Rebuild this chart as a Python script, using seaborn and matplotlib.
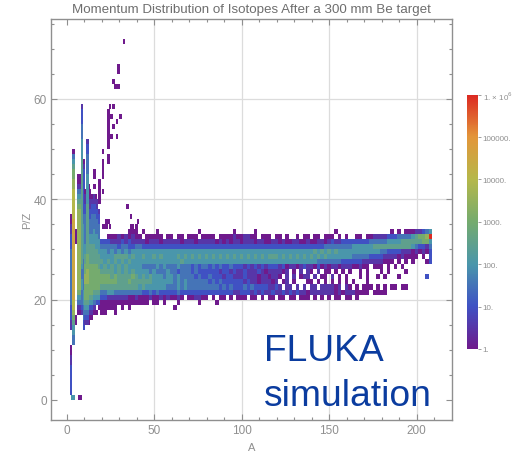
import numpy as np
import pandas as pd
import seaborn as sns
import matplotlib
matplotlib.use("Agg")
import matplotlib.pyplot as plt
from matplotlib.colors import LinearSegmentedColormap, LogNorm

TITLE = "Momentum Distribution of Isotopes After a 300 mm Be target"
X_TICKS = [0, 50, 100, 150, 200]
Y_TICKS = [0, 20, 40, 60]
CBAR_TICKS = [1, 10, 100, 1000, 10000, 100000, 1000000]
CBAR_LABELS = ["1.", "10.", "100.", "1000.", "10000.", "100000.", r"1. × 10$^{6}$"]
RAINBOW = ["#6f1a8c", "#3f52c4", "#4a96ab", "#74ab6e", "#b5b84a", "#e3963a", "#dc2a22"]

# Level code per cell: half decades of counts, 0=1, 2=10, 4=100, ... c=1e6
LEVELS = "0123456789abc"

# Main band: 2-wide A bins beginning at A=19, one string per P/Z row
BAND_START_A = 19
BAND_ROWS = {
    33: "........00" "..0...0..." "........0." "........0." "....0....." ".........." ".......0.." ".........." "...0.0.000" "11234",
    32: "..00010101" "00.00000.0" "0.00.000.0" "000.000010" "01100.000." "00.0..0.00" ".00.000.0." "0..00.0011" "1122233334" "5667c",
    31: "2221112121" "1110111011" "1110111011" "1110101011" "0111011001" "1010011001" "0011012112" "2222222333" "3344445555" "55664",
    30: "3333323322" "3322222222" "2222222222" "2222222222" "2222222222" "2222222222" "2222333333" "3344444455" "5555555554" "32213",
    29: "4434343434" "4444444444" "4444444444" "4444444444" "4444444444" "4444444444" "4545454544" "4444444444" "3322221110" "10102",
    28: "4444555545" "4454454544" "4454545454" "5454545454" "5454545455" "5454545454" "5454544444" "4433333222" "2111101000" "0.0.2",
    27: "5454545454" "4444444444" "4445444444" "4444444444" "4444444444" "4444444444" "4433333332" "2222211111" "1000.0.0.0" "...02",
    26: "4545454544" "4433334343" "3343332323" "3232322322" "2121212122" "2120110121" "1020101101" "1100100.00" "0.0.0.0..." ".....",
    25: "5555454545" "4444343334" "3323332322" "2222122121" "1211121011" "1101.0.1.1" "0.1.00.0.0" ".0..0.0..." "0.0....0.." ".....",
    24: "6665655556" "5454544434" "4343333232" "2322212211" "1211101101" "10.1.1.011" ".1.00.1.0." "0...0.0..0" ".0...0...." "...2.",
    23: "6666655565" "5555544444" "4343433333" "3232322222" "2121101110" "1.01.0...0" "0.0.0.0.0." "0.0...0..." ".........." ".....",
    22: "5555555555" "5454444443" "3343433333" "3333232322" "2323222211" "21.11.1.1." "11.111101." "10.0.000.0" ".0.00.00.." ".....",
    21: "3344333333" "3322323222" "2232222222" "2222222211" "2221212112" "1121212110" "1111111010" "1110000.00" "00........" ".....",
    20: "2211111100" "1000100101" "0010.00110" "0.0.00.0.0" "00.00.0.00" ".00.00.000" ".0.0.0.00." "00.0......" ".........." ".....",
    19: "0000000000" "0000.00.0." "..0.....0." "...0......" ".........." ".........." ".........." ".........." ".........." ".....",
    18: "00000.0.0." ".........." ".0........" ".........." ".........." ".........." ".........." ".........." ".........." ".....",
    17: "00..0....." ".........." ".........." ".........." ".........." ".........." ".........." ".........." ".........." ".....",
}

# Light isotopes: vertical strips, each with left edge, width, first P/Z and levels going upward
STRIP_A =     [2, 3, 5, 6, 9.5, 10, 12.5, 13, 14, 15, 16, 17, 18, 8, 11]
STRIP_WIDTH = [1, 2, 1, 2, 1, 1, 1, 1, 1, 1, 1, 1, 1, 1.5, 1.5]
STRIP_START = [1, 11, 15, 17, 14, 15, 15, 16, 16, 17, 17, 17, 18, 17, 15]
STRIP_LEVELS = [
    "2222221100...11222333333333332221100",
    "334456788999999999999999988888877665430",
    "00..............000",
    "0134677777777777777776543100",
    "2233344433333344444443322222222210",
    "123456667766554433333322110",
    "0123566666665554443333221000",
    "01245666666555544333221100",
    "0124566666655554433332210",
    "013456666655554443332211",
    "01345666665554443333221",
    "0.245666665554443332211",
    "02456666555444333221",
    "123334433455555555555555555555544443332221",
    "12345666777666555555555544444433332 21".replace(" ", ""),
]

# Isolated cells and short runs outside the main body
OUTLIER_A =    [32, 29, 26, 27, 29, 24, 26, 23, 25, 30, 28, 26, 25, 28, 23, 20, 20, 20, 18, 15, 15, 16, 34, 36, 37, 40, 20, 21, 22, 23, 24, 36, 37, 39]
OUTLIER_LOW =  [71, 65, 63, 62, 62, 58, 58, 50, 56, 56, 55, 54, 52, 52, 47, 49, 44, 41, 39, 44, 42, 40, 38, 36, 34, 35, 34, 34, 34, 35, 34, 34, 34, 33]
OUTLIER_HIGH = [72, 67, 64, 63, 63, 59, 59, 58, 57, 57, 56, 55, 53, 53, 49, 50, 48, 42, 44, 46, 43, 41, 39, 37, 35, 36, 35, 35, 36, 36, 35, 35, 35, 35]

# Cells at P/Z 0: left edge, right edge, level
ZERO_LEFT =  [2.5, 6.5]
ZERO_RIGHT = [5, 9]
ZERO_LEVEL = ["4", "0"]

A_MIN, A_MAX = -9, 220
PZ_MIN, PZ_MAX = -4, 76
CELLS_PER_A = 2

grid = np.full((PZ_MAX - PZ_MIN, (A_MAX - A_MIN) * CELLS_PER_A), np.nan)


def put(a0, a1, pz, code):
    if code != ".":
        i0 = int((a0 - A_MIN) * CELLS_PER_A)
        i1 = int((a1 - A_MIN) * CELLS_PER_A)
        grid[PZ_MAX - 1 - pz, i0:i1] = 10 ** (LEVELS.index(code) / 2)


for pz, row in BAND_ROWS.items():
    for k, code in enumerate(row):
        put(BAND_START_A + 2 * k, BAND_START_A + 2 * k + 2, pz, code)
for a, w, start, lev in zip(STRIP_A, STRIP_WIDTH, STRIP_START, STRIP_LEVELS):
    for k, code in enumerate(lev):
        put(a, a + w, start + k, code)
for a, lo, hi in zip(OUTLIER_A, OUTLIER_LOW, OUTLIER_HIGH):
    for pz in range(lo, hi):
        put(a, a + 1.5, pz, "0")
for a0, a1, code in zip(ZERO_LEFT, ZERO_RIGHT, ZERO_LEVEL):
    put(a0, a1, 0, code)

df = pd.DataFrame(grid, index=np.arange(PZ_MAX - 1, PZ_MIN - 1, -1),
                  columns=A_MIN + np.arange(grid.shape[1]) / CELLS_PER_A)

GRAY = "#8f8f8f"
W, H = 516, 452
sns.set_theme(style="white")
plt.rcParams["font.family"] = ["Liberation Sans", "DejaVu Sans"]

fig = plt.figure(figsize=(W / 100, H / 100), dpi=100)
ax = fig.add_axes([51 / W, (H - 421) / H, 400.7 / W, 401.5 / H])
cax = fig.add_axes([467 / W, (H - 350) / H, 11 / W, 254.3 / H])

cmap = LinearSegmentedColormap.from_list("rainbow_wl", RAINBOW)
sns.heatmap(df, ax=ax, cbar_ax=cax, cmap=cmap, norm=LogNorm(1, 1e6),
            xticklabels=False, yticklabels=False, rasterized=True)

ax.set_axisbelow(True)
ax.set_xticks([(a - A_MIN) * CELLS_PER_A for a in X_TICKS])
ax.set_xticklabels([str(a) for a in X_TICKS])
ax.set_yticks([PZ_MAX - p for p in Y_TICKS])
ax.set_yticklabels([str(p) for p in Y_TICKS], rotation=0)
ax.set_xticks([(a - A_MIN) * CELLS_PER_A for a in range(0, 220, 10) if a % 50], minor=True)
ax.set_yticks([PZ_MAX - p for p in range(0, 76, 5) if p % 20], minor=True)
ax.tick_params(which="major", direction="in", length=4, width=0.8, color=GRAY,
               labelcolor=GRAY, labelsize=8.5, top=True, right=True, bottom=True, left=True, pad=3)
ax.tick_params(which="minor", direction="in", length=2.2, width=0.8, color=GRAY,
               top=True, right=True, bottom=True, left=True)
for a in X_TICKS[1:]:
    ax.axvline((a - A_MIN) * CELLS_PER_A, color="#dcdcdc", lw=0.9, zorder=0.5)
for p in Y_TICKS[1:]:
    ax.axhline(PZ_MAX - p, color="#dcdcdc", lw=0.9, zorder=0.5)
for s in ax.spines.values():
    s.set_visible(True)
    s.set_color(GRAY)
    s.set_linewidth(1.0)

ax.set_xlabel("A", color=GRAY, fontsize=8, labelpad=4)
ax.set_ylabel("P/Z", color=GRAY, fontsize=8, labelpad=1)
ax.set_title(TITLE, color="#6e6e6e", fontsize=9.6, pad=5)

cbar = ax.collections[0].colorbar
cbar.set_ticks(CBAR_TICKS)
cbar.set_ticklabels(CBAR_LABELS)
cbar.minorticks_off()
cbar.outline.set_visible(False)
cax.tick_params(axis="y", which="major", length=2, width=0.6, color=GRAY, labelcolor=GRAY, labelsize=5.8, pad=1.5)

fig.text(264 / W, (H - 361.5) / H, "FLUKA", color="#0b3c9f", fontsize=26.8, ha="left", va="baseline")
fig.text(264 / W, (H - 406) / H, "simulation", color="#0b3c9f", fontsize=26.8, ha="left", va="baseline")

fig.savefig("out.png", dpi=100)
